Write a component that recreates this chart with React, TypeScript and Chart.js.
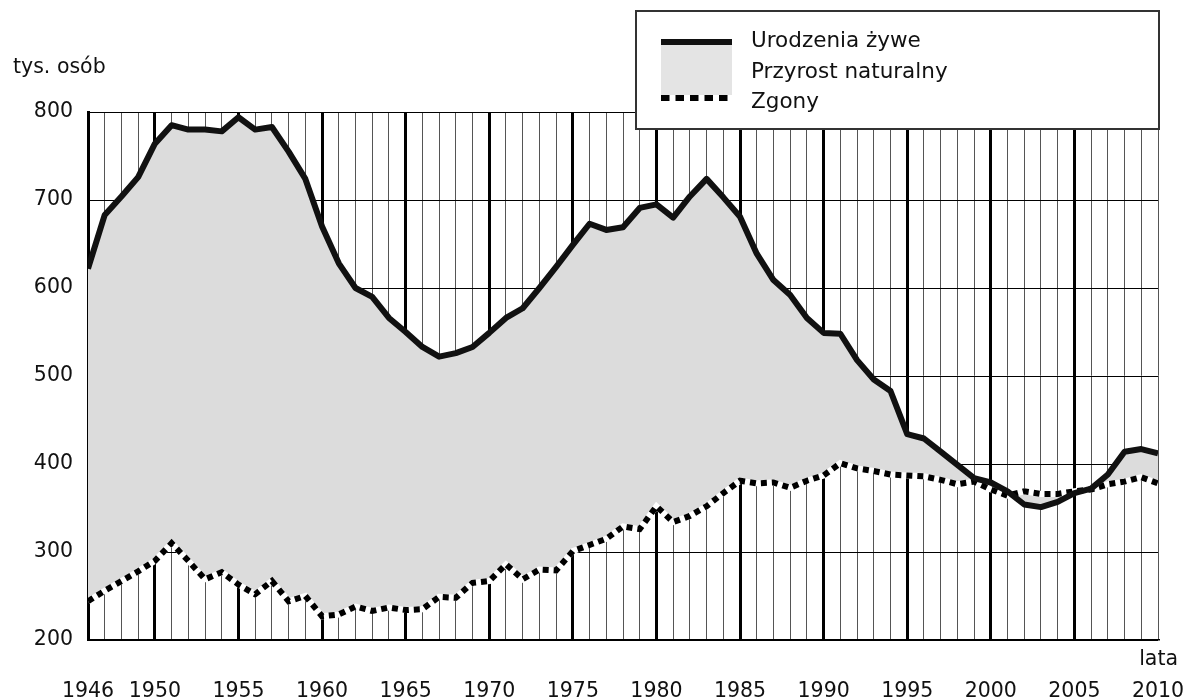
import React, { useEffect, useRef } from 'react';
import { Chart, registerables } from 'chart.js';
Chart.register(...registerables);

const years = [
  1946, 1947, 1948, 1949, 1950, 1951, 1952, 1953, 1954, 1955,
  1956, 1957, 1958, 1959, 1960, 1961, 1962, 1963, 1964, 1965,
  1966, 1967, 1968, 1969, 1970, 1971, 1972, 1973, 1974, 1975,
  1976, 1977, 1978, 1979, 1980, 1981, 1982, 1983, 1984, 1985,
  1986, 1987, 1988, 1989, 1990, 1991, 1992, 1993, 1994, 1995,
  1996, 1997, 1998, 1999, 2000, 2001, 2002, 2003, 2004, 2005,
  2006, 2007, 2008, 2009, 2010,
];

const births = [
  622, 683, 704, 726, 764, 785, 780, 780, 778, 794,
  780, 783, 755, 724, 670, 628, 600, 590, 566, 550,
  533, 522, 526, 533, 549, 566, 577, 600, 624, 649,
  673, 666, 669, 691, 695, 680, 704, 724, 703, 681,
  639, 609, 592, 566, 549, 548, 518, 496, 483, 434,
  429, 414, 399, 384, 379, 369, 354, 351, 357, 367,
  372, 388, 414, 417, 412,
];

const deaths = [
  244, 256, 267, 278, 290, 310, 290, 269, 277, 263,
  252, 267, 244, 250, 227, 229, 238, 233, 237, 234,
  235, 249, 248, 265, 267, 286, 269, 280, 279, 301,
  308, 315, 329, 326, 352, 334, 341, 352, 367, 381,
  378, 379, 373, 381, 387, 401, 395, 392, 388, 387,
  386, 382, 377, 380, 371, 364, 369, 366, 366, 369,
  371, 377, 380, 385, 378,
];

const xMin = 1946;
const xMax = 2010;
const yMin = 200;
const yMax = 800;
const yStep = 100;

const legendLabels = ['Urodzenia żywe', 'Przyrost naturalny', 'Zgony'];
const yTitle = 'tys. osób';
const xTitle = 'lata';

const FONT = '"DejaVu Sans", "Liberation Sans", sans-serif';
const TEXT = '#111';

export default function App() {
  const ref = useRef<HTMLCanvasElement>(null);

  useEffect(() => {
    if (!ref.current) return;

    const extras = {
      id: 'extras',
      afterDraw(chart: any) {
        const ctx = chart.ctx as CanvasRenderingContext2D;
        ctx.save();
        ctx.fillStyle = TEXT;
        ctx.font = `20.5px ${FONT}`;
        ctx.textBaseline = 'alphabetic';
        ctx.textAlign = 'left';
        ctx.fillText(yTitle, 13, 73);
        ctx.textAlign = 'right';
        ctx.fillText(xTitle, 1178, 665);

        const bx = 636, by = 11, bw = 523, bh = 118;
        ctx.fillStyle = '#ffffff';
        ctx.fillRect(bx, by, bw, bh);
        ctx.strokeStyle = '#333';
        ctx.lineWidth = 2;
        ctx.strokeRect(bx, by, bw, bh);

        const sx0 = 661, sx1 = 732;
        ctx.fillStyle = '#e4e4e4';
        ctx.fillRect(sx0, 45, sx1 - sx0, 50);
        ctx.fillStyle = '#111';
        ctx.fillRect(sx0, 39, sx1 - sx0, 6);
        ctx.strokeStyle = '#000';
        ctx.lineWidth = 6;
        ctx.setLineDash([8.5, 6]);
        ctx.beginPath();
        ctx.moveTo(sx0, 98);
        ctx.lineTo(sx1, 98);
        ctx.stroke();
        ctx.setLineDash([]);

        ctx.fillStyle = TEXT;
        ctx.font = `21.5px ${FONT}`;
        ctx.textAlign = 'left';
        ctx.fillText(legendLabels[0], 751, 47);
        ctx.fillText(legendLabels[1], 751, 78);
        ctx.fillText(legendLabels[2], 751, 108);
        ctx.restore();
      },
    };

    const birthsPts = years.map((x, i) => ({ x, y: births[i] }));
    const deathsPts = years.map((x, i) => ({ x, y: deaths[i] }));

    const chart = new Chart(ref.current, {
      type: 'line',
      data: {
        datasets: [
          {
            label: legendLabels[0],
            data: birthsPts,
            order: 0,
            borderColor: '#111',
            borderWidth: 6,
            pointRadius: 0,
            tension: 0,
            borderJoinStyle: 'round',
            fill: { target: 1 },
            backgroundColor: '#dcdcdc',
          },
          {
            label: legendLabels[2],
            data: deathsPts,
            order: 1,
            borderColor: '#000',
            borderWidth: 6,
            borderDash: [6, 5],
            pointRadius: 0,
            tension: 0,
            fill: false,
          },
          {
            label: legendLabels[2] + ' (tło)',
            data: deathsPts,
            order: 2,
            borderColor: '#ffffff',
            borderWidth: 6,
            pointRadius: 0,
            tension: 0,
            fill: false,
          },
        ],
      },
      options: {
        animation: false,
        responsive: false,
        layout: { padding: { left: 0, right: 25, top: 112, bottom: 0 } },
        plugins: {
          legend: { display: false },
          tooltip: { enabled: false },
          filler: { drawTime: 'beforeDatasetsDraw' },
        },
        scales: {
          x: {
            type: 'linear',
            min: xMin,
            max: xMax,
            afterFit: (s: any) => {
              s.height = 59;
              s.paddingLeft = 0;
              s.paddingRight = 0;
            },
            ticks: {
              stepSize: 1,
              autoSkip: false,
              maxRotation: 0,
              minRotation: 0,
              padding: 39,
              color: TEXT,
              font: { family: FONT, size: 20.5, lineHeight: 1.2 },
              callback: (v: any) => {
                const n = Math.round(Number(v));
                return n === xMin || n % 5 === 0 ? String(n) : '';
              },
            },
            grid: {
              drawTicks: false,
              color: (c: any) => {
                const n = Math.round(c.tick ? c.tick.value : 0);
                if (n === xMax) return '#555';
                return n === xMin || n % 5 === 0 ? '#000' : '#555';
              },
              lineWidth: (c: any) => {
                const n = Math.round(c.tick ? c.tick.value : 0);
                if (n === xMax) return 1;
                return n === xMin || n % 5 === 0 ? 3 : 1;
              },
            },
            border: { display: true, color: '#000', width: 1.5 },
          },
          y: {
            min: yMin,
            max: yMax,
            afterFit: (s: any) => {
              s.width = 88;
            },
            ticks: {
              stepSize: yStep,
              padding: 15,
              color: TEXT,
              font: { family: FONT, size: 20.5 },
            },
            grid: { drawTicks: false, color: '#000', lineWidth: 1 },
            border: { display: true, color: '#000', width: 3 },
          },
        },
      },
      plugins: [extras],
    } as any);

    return () => chart.destroy();
  }, []);

  return (
    <canvas
      ref={ref}
      width={1183}
      height={699}
      style={{ position: 'fixed', left: 0, top: 0, display: 'block' }}
    />
  );
}
